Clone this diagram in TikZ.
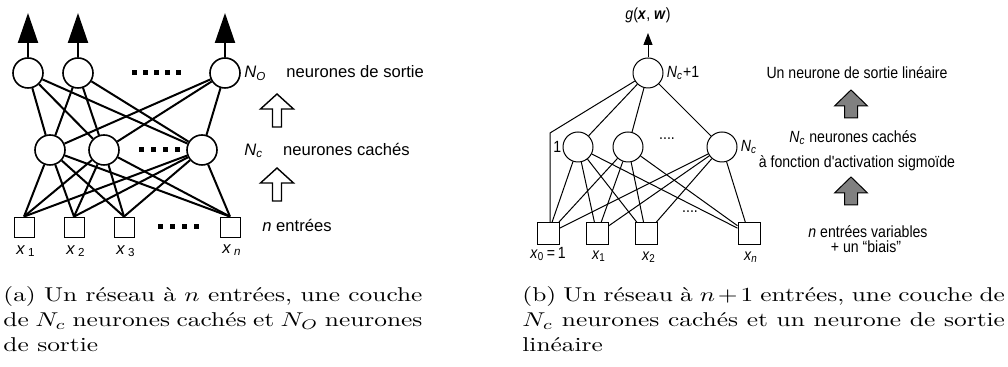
\documentclass[tikz,border=0pt]{standalone}
\usepackage{fontspec}
\newfontfamily\helv{Liberation Sans}
\newfontfamily\helvn{Liberation Sans}[FakeStretch=0.87]
\usetikzlibrary{positioning, arrows.meta}

\tikzset{
    hollowarrow/.pic={\draw[line width=0.7pt, fill=white] (0,0) -- (16.5,15) -- (4.5,15) -- (4.5,33) -- (-4.5,33) -- (-4.5,15) -- (-16.5,15) -- cycle;},
    grayarrow/.pic={\draw[line width=0.5pt, fill=black!50] (0,0) -- (16.5,16) -- (6.5,16) -- (6.5,28) -- (-6.5,28) -- (-6.5,16) -- (-16.5,16) -- cycle;},
}

\begin{document}
\begin{tikzpicture}[
        x=0.5pt, y=-0.5pt,
        neuron/.style={draw, circle, fill=white, minimum size=15pt, inner sep=0pt, line width=#1},
        neuron/.default=0.8pt,
        entry/.style={draw, rectangle, fill=white, minimum size=#1, inner sep=0pt},
        entry/.default=10pt,
        lien/.style={line width=#1},
        lien/.default=1pt,
        sortie/.style={-{Triangle[length=15pt, width=10pt]}, line width=1pt},
        lbla/.style={font=\helv\fontsize{8.3}{10}\selectfont, inner sep=0pt},
        lblb/.style={font=\helvn\fontsize{8.1}{9.5}\selectfont, inner sep=0pt},
        legende/.style={font=\fontsize{10}{12.4}\selectfont, inner sep=0pt, anchor=base west},
    ]
    \useasboundingbox (0,0) rectangle (1008,367);

    % ---- Network (a) ----
    \node[neuron] (o1) at (28,73) {};
    \node[neuron] (o2) at (78,73) {};
    \node[neuron] (o3) at (225,73) {};

    \node[neuron] (h1) at (50,150) {};
    \node[neuron] (h2) at (104,150) {};
    \node[neuron] (h3) at (202,150) {};

    \node[entry] (i1) at (24,227) {};
    \node[entry] (i2) at (74,227) {};
    \node[entry] (i3) at (124,227) {};
    \node[entry] (i4) at (230,227) {};

    \foreach \h in {h1,h2,h3}
        \foreach \o in {o1,o2,o3}
            \draw[lien] (\h) -- (\o);
    \foreach \h in {h1,h2,h3}
        \foreach \i in {i1,i2,i3,i4}
            \draw[lien] (\h) -- (\i.north);

    \coordinate (t1) at (28,13);
    \coordinate (t2) at (78,13);
    \coordinate (t3) at (225,13);
    \draw[sortie] (o1) -- (t1);
    \draw[sortie] (o2) -- (t2);
    \draw[sortie] (o3) -- (t3);

    \foreach \x in {134,145,156,167,178}
        \fill (\x-2.5,70.5) rectangle ++(5,5);
    \foreach \x in {141,153,165,177}
        \fill (\x-2.5,147.5) rectangle ++(5,5);
    \foreach \x in {160,172,184,196}
        \fill (\x-2.5,224.5) rectangle ++(5,5);

    \node[lbla] (x1) at (26,251) {\textit{x}\,\textsubscript{1}};
    \node[lbla] (x2) at (76,251) {\textit{x}\,\textsubscript{2}};
    \node[lbla] (x3) at (126,251) {\textit{x}\,\textsubscript{3}};
    \node[lbla] (xn) at (232,250) {\textit{x}\,\textsubscript{\textit{n}}};

    \node[lbla, anchor=west] (lo) at (244,73) {\textit{N}\textsubscript{\textit{O}}\hspace{10pt}neurones de sortie};
    \node[lbla, anchor=west] (lc) at (244,150) {\textit{N}\textsubscript{\textit{c}}\hspace{10pt}neurones cachés};
    \node[lbla, anchor=west] (ln) at (262,225) {\textit{n} entrées};
    \pic at (277,94) {hollowarrow};
    \pic at (277,168) {hollowarrow};

    % ---- Network (b) ----
    \node[neuron=0.5pt] (ro) at (648,73) {};

    \node[neuron=0.5pt] (rh1) at (578,147) {};
    \node[neuron=0.5pt] (rh2) at (628,147) {};
    \node[neuron=0.5pt] (rh3) at (722,147) {};

    \node[entry=11pt, line width=0.5pt] (ri0) at (548,234) {};
    \node[entry=11pt, line width=0.5pt] (ri1) at (597,234) {};
    \node[entry=11pt, line width=0.5pt] (ri2) at (646,234) {};
    \node[entry=11pt, line width=0.5pt] (rin) at (749,234) {};

    \foreach \h in {rh1,rh2,rh3}
        \draw[lien=0.5pt] (\h) -- (ro);
    \foreach \h in {rh1,rh2,rh3}
        \foreach \i in {ri0,ri1,ri2,rin}
            \draw[lien=0.5pt] (\h) -- (\i);
    \coordinate (biais) at (550,133);
    \draw[lien=0.5pt] (ri0.north -| biais) -- (biais) -- (ro);

    \coordinate (rt) at (648,33);
    \draw[-{Triangle[length=6pt, width=4.5pt]}, line width=0.5pt] (ro) -- (rt);
    \node[lblb, above=5pt of rt] (g) {\textit{g}(\textbf{\textit{x}}, \textbf{\textit{w}})};

    \node[lblb, right=1.5pt of ro] (nc1) {\textit{N}\textsubscript{\textit{c}}+1};
    \node[lblb, left=0.5pt of rh1] (un) {1};
    \node[lblb, right=1.5pt of rh3] (nc) {\textit{N}\textsubscript{\textit{c}}};
    \node[lblb] (dh) at (667,139) {....};
    \node[lblb] (di) at (690,212) {....};

    \node[lblb] (rx0) at (548,254) {\textit{x}\textsubscript{0}\,=\,1};
    \node[lblb] (rx1) at (599,256) {\textit{x}\textsubscript{1}};
    \node[lblb] (rx2) at (649,257) {\textit{x}\textsubscript{2}};
    \node[lblb] (rxn) at (751,257) {\textit{x}\textsubscript{\textit{n}}};

    \node[lblb] (ls) at (857,73) {Un neurone de sortie linéaire};
    \node[lblb] (lh) at (853,138) {\textit{N}\textsubscript{\textit{c}} neurones cachés};
    \node[lblb] (lf) at (857,163) {à fonction d'activation sigmoïde};
    \node[lblb] (le) at (868,232) {\textit{n} entrées variables};
    \node[lblb] (lb) at (866,247) {+ un “biais”};
    \pic at (851,90) {grayarrow};
    \pic at (851,177) {grayarrow};

    % ---- Captions ----
    \node[legende] (capa) at (3,302) {\scalebox{1.27}[1]{\parbox[t]{165pt}{(a) Un réseau à $n$ entrées, une couche\linebreak de $N_c$ neurones cachés et $N_O$ neurones\linebreak de sortie}}};
    \node[legende] (capb) at (522,302) {\scalebox{1.27}[1]{\parbox[t]{190pt}{(b) Un réseau à $n+1$ entrées, une couche de\linebreak $N_c$ neurones cachés et un neurone de sortie\linebreak linéaire}}};
\end{tikzpicture}
\end{document}
